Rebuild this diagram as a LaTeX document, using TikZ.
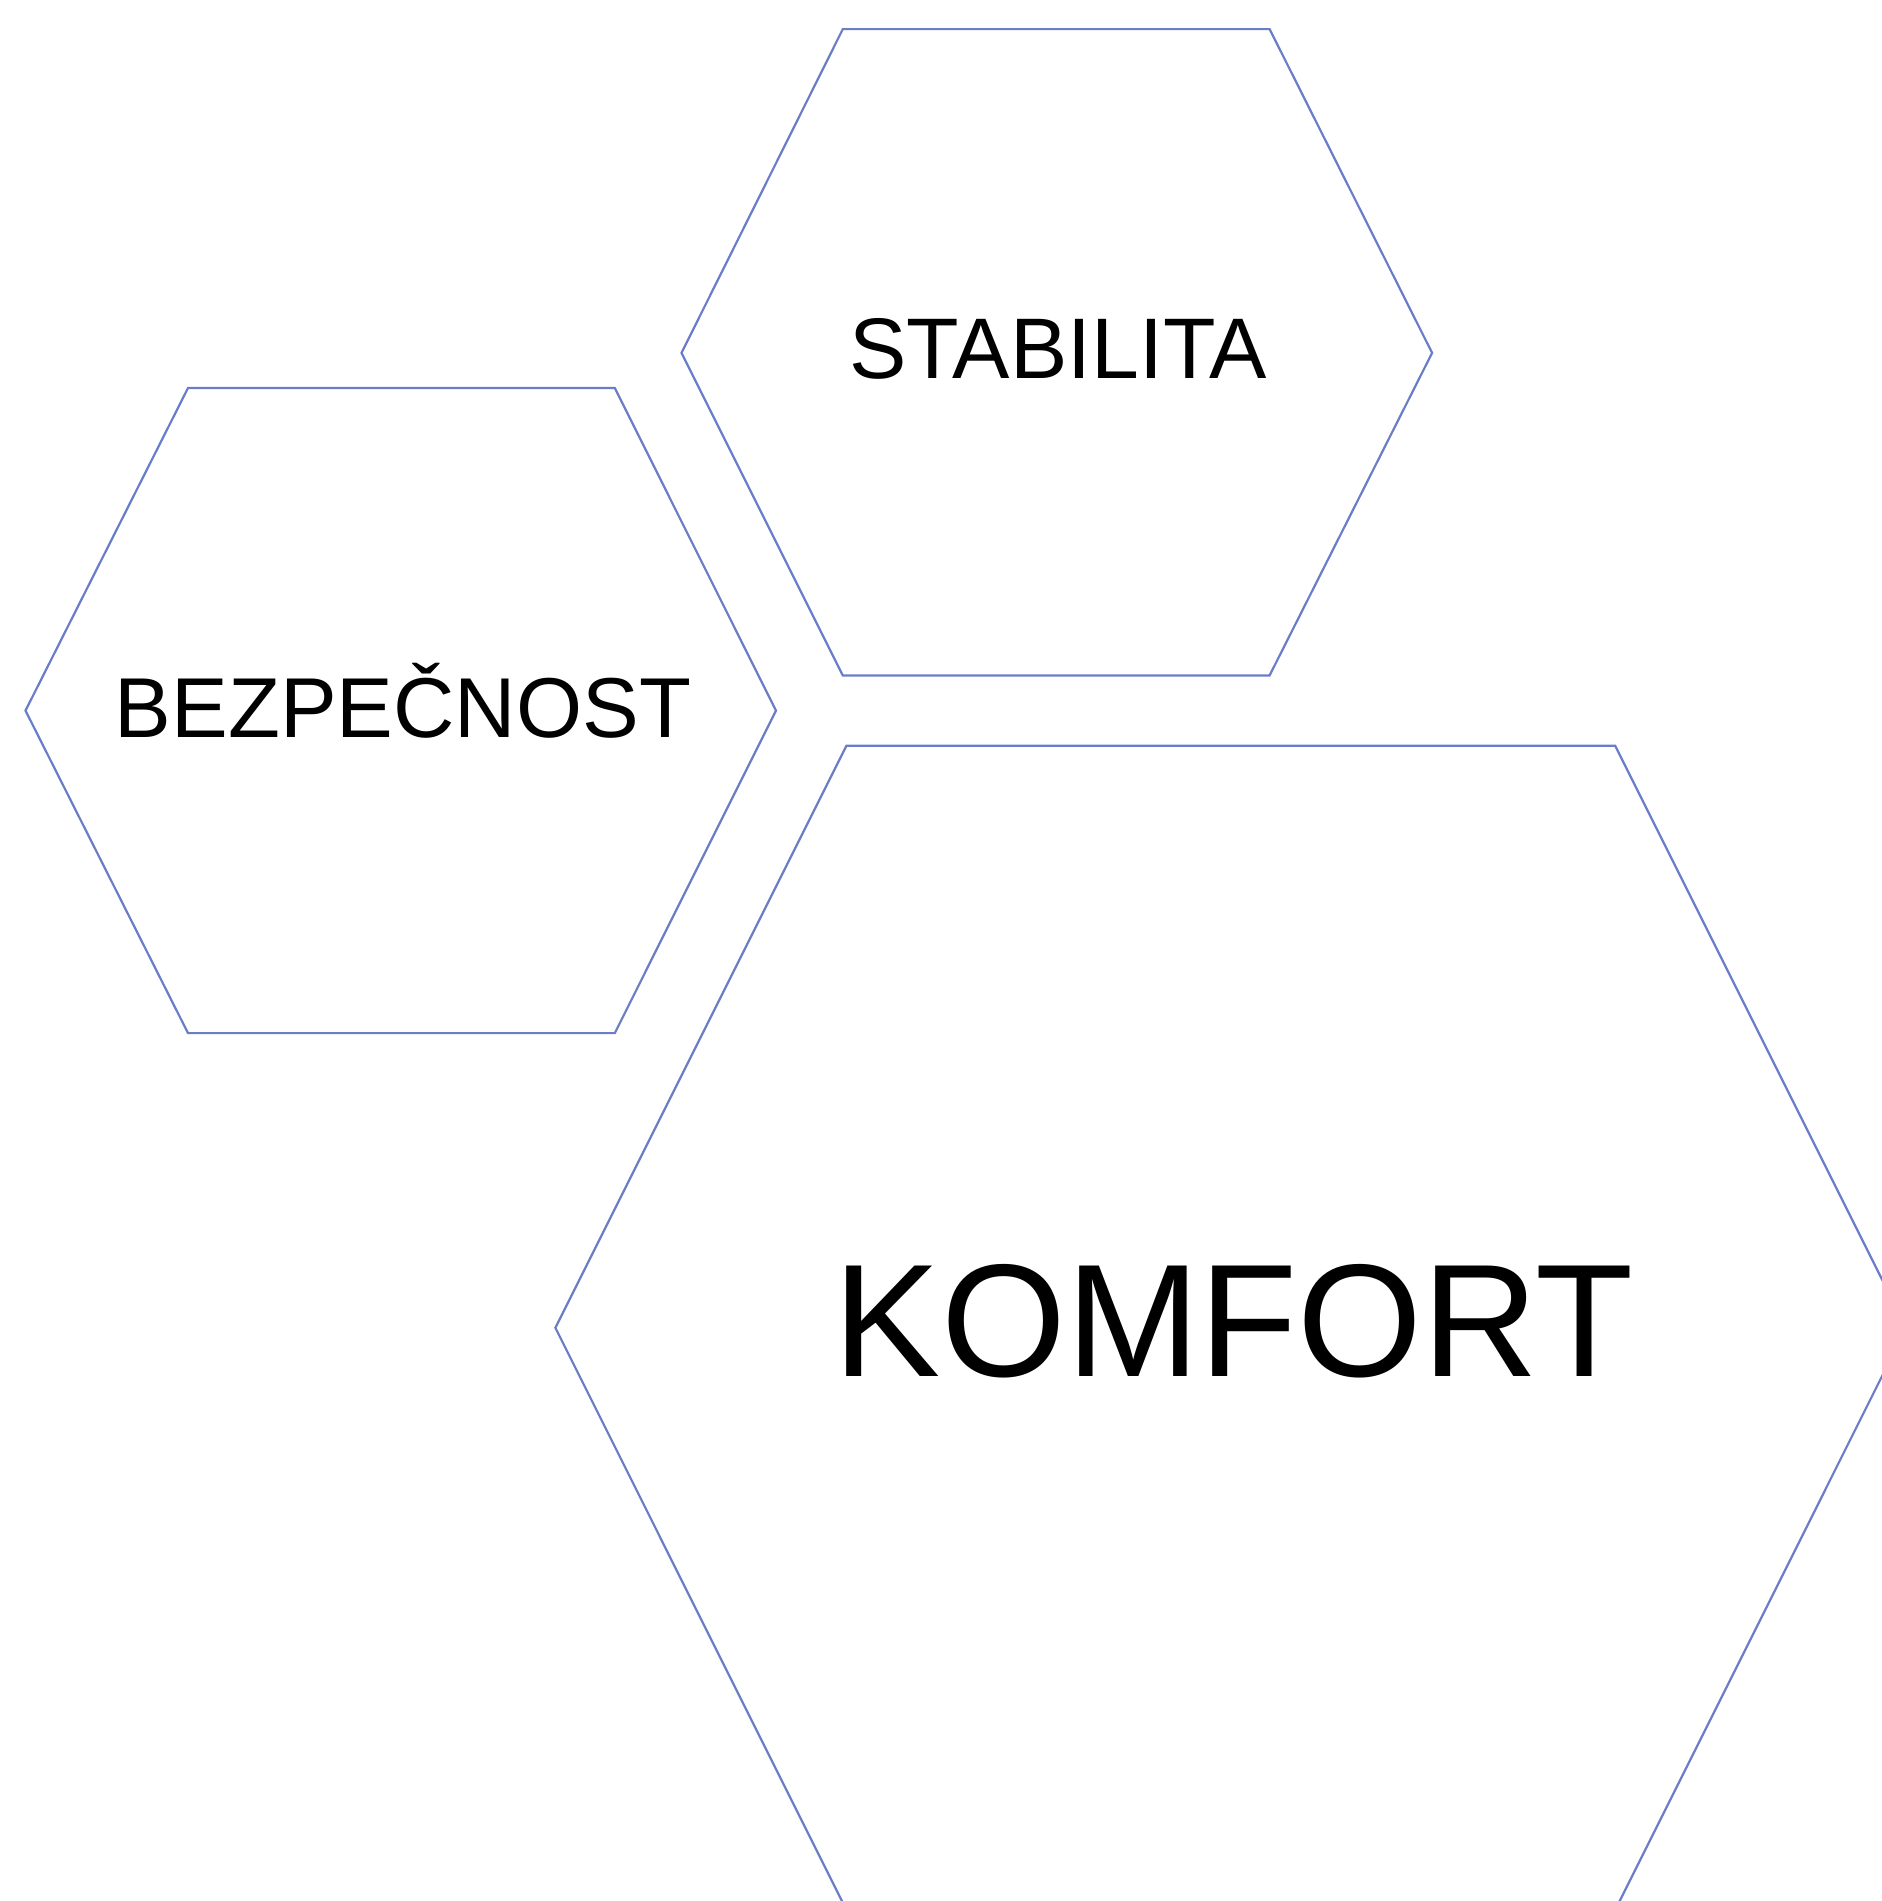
\documentclass[tikz,border=0pt]{standalone}
\usepackage{fontspec}
\setmainfont{Liberation Sans}
\definecolor{hexblue}{RGB}{106,126,200}
\begin{document}
\begin{tikzpicture}[x=1pt,y=-1pt,
  hexline/.style={draw=hexblue,line width=2.2pt,line join=miter},
  lbl/.style={inner sep=0pt,text=black}]
\useasboundingbox (0,0) rectangle (1882,1901);
\clip (0,0) rectangle (1882,1901);
% STABILITA hexagon
\draw[hexline] (842.8,29.1) -- (1269.6,29.1) -- (1432.1,352.9) -- (1269.6,675.4) -- (842.8,675.4) -- (681.5,352.9) -- cycle;
% BEZPECNOST hexagon
\draw[hexline] (188,388) -- (614.8,388) -- (776,710.6) -- (614.8,1033.1) -- (188,1033.1) -- (25.5,710.6) -- cycle;
% KOMFORT hexagon
\draw[hexline] (846.4,745.8) -- (1615.2,745.8) -- (1906.2,1327.8) -- (1615.2,1909.9) -- (846.4,1909.9) -- (555.4,1327.8) -- cycle;
\node[lbl,font=\fontsize{86}{100}\selectfont] (stab) at (1058,349) {STABILITA};
\node[lbl,font=\fontsize{85}{100}\selectfont] (bezp) at (403,700.5) {BEZPEČNOST};
\node[lbl,font=\fontsize{160.6}{190}\selectfont] (komf) at (1234,1321) {KOMFORT};
\end{tikzpicture}
\end{document}
